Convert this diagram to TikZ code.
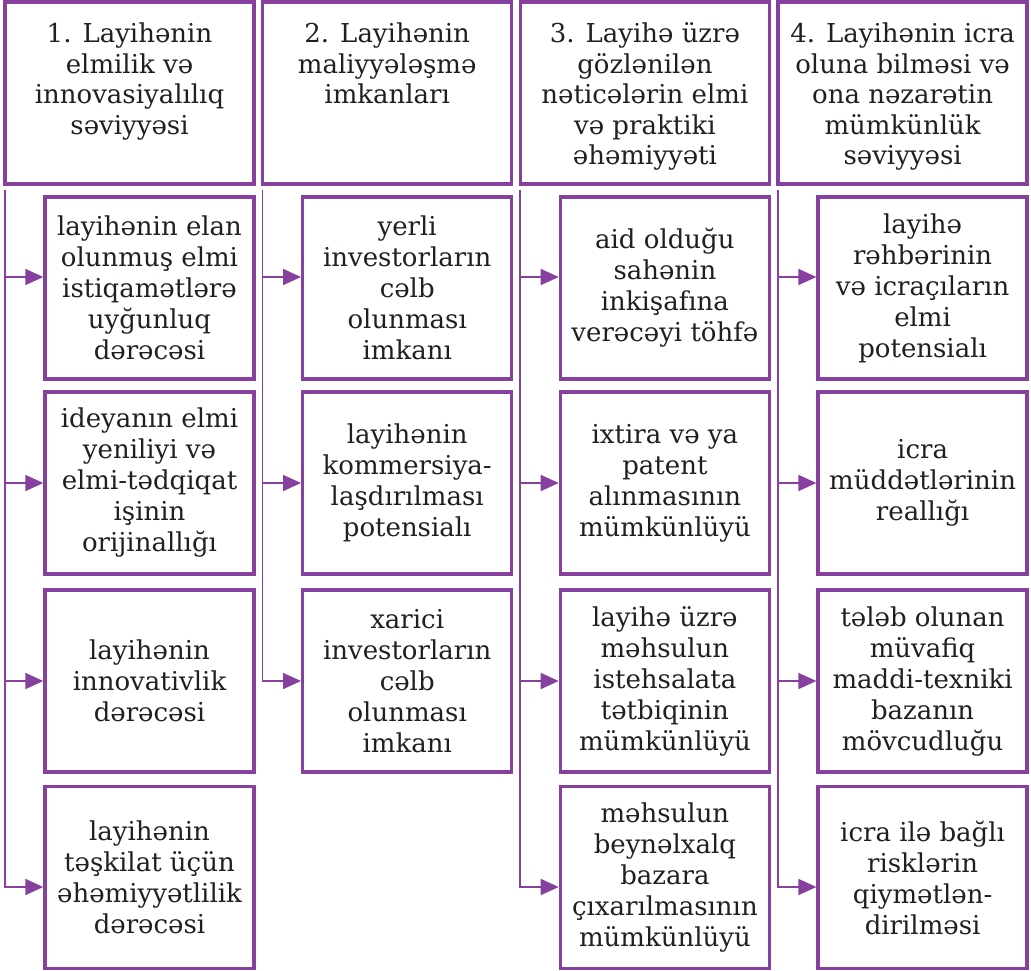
\documentclass[tikz,border=0pt]{standalone}
\usepackage{fontspec}
\setmainfont{DejaVu Serif}
\usetikzlibrary{arrows.meta}
\definecolor{violet}{RGB}{136,64,158}
\definecolor{ink}{RGB}{35,31,32}
% header text: top-aligned block of fixed height
\newcommand\headtext[1]{\begin{minipage}[c][143pt][t]{246pt}\centering\fontsize{26}{30.5}\selectfont\strut#1\end{minipage}}
\tikzset{
  frame/.style={draw=violet, line width=3.4pt, rectangle, inner sep=0pt, text=ink,
    font=\fontsize{26}{31}\selectfont},
  headbox/.style={frame, minimum width=249pt, minimum height=182pt},
  itembox/.style={frame, minimum width=209pt, minimum height=182pt, align=center},
  link/.style={draw=violet, line width=1.6pt, -{Triangle[length=18pt,width=16pt]}},
}
\begin{document}
\begin{tikzpicture}[x=1pt,y=-1pt]
\useasboundingbox (0,0) rectangle (1031,970);

% column headers
\node[headbox] (h1) at (129.5,93) {\headtext{1. Layihənin\\elmilik və\\innovasiyalılıq\\səviyyəsi}};
\node[headbox] (h2) at (387.2,93) {\headtext{2. Layihənin\\maliyyələşmə\\imkanları}};
\node[headbox] (h3) at (644.9,93) {\headtext{3. Layihə üzrə\\gözlənilən\\nəticələrin elmi\\və praktiki\\əhəmiyyəti}};
\node[headbox] (h4) at (902.6,93) {\headtext{4. Layihənin icra\\oluna bilməsi və\\ona nəzarətin\\mümkünlük\\səviyyəsi}};

% column 1
\node[itembox] (c11) at (149.5,288) {layihənin elan\\olunmuş elmi\\istiqamətlərə\\uyğunluq\\dərəcəsi};
\node[itembox] (c12) at (149.5,483) {ideyanın elmi\\yeniliyi və\\elmi-tədqiqat\\işinin\\orijinallığı};
\node[itembox] (c13) at (149.5,681) {layihənin\\innovativlik\\dərəcəsi};
\node[itembox] (c14) at (149.5,877.5) {layihənin\\təşkilat üçün\\əhəmiyyətlilik\\dərəcəsi};

% column 2
\node[itembox] (c21) at (407.2,288) {yerli\\investorların\\cəlb\\olunması\\imkanı};
\node[itembox] (c22) at (407.2,483) {layihənin\\kommersiya-\\laşdırılması\\potensialı};
\node[itembox] (c23) at (407.2,681) {xarici\\investorların\\cəlb\\olunması\\imkanı};

% column 3
\node[itembox] (c31) at (664.9,288) {aid olduğu\\sahənin\\inkişafına\\verəcəyi töhfə};
\node[itembox] (c32) at (664.9,483) {ixtira və ya\\patent\\alınmasının\\mümkünlüyü};
\node[itembox] (c33) at (664.9,681) {layihə üzrə\\məhsulun\\istehsalata\\tətbiqinin\\mümkünlüyü};
\node[itembox] (c34) at (664.9,877.5) {məhsulun\\beynəlxalq\\bazara\\çıxarılmasının\\mümkünlüyü};

% column 4
\node[itembox] (c41) at (922.6,288) {layihə\\rəhbərinin\\və icraçıların\\elmi\\potensialı};
\node[itembox] (c42) at (922.6,483) {icra\\müddətlərinin\\reallığı};
\node[itembox] (c43) at (922.6,681) {tələb olunan\\müvafiq\\maddi-texniki\\bazanın\\mövcudluğu};
\node[itembox] (c44) at (922.6,877.5) {icra ilə bağlı\\risklərin\\qiymətlən-\\dirilməsi};

% trunk starts just below each header
\coordinate (t1) at ([xshift=1.5pt,yshift=-4pt]h1.south west);
\coordinate (t2) at ([xshift=1.5pt,yshift=-4pt]h2.south west);
\coordinate (t3) at ([xshift=1.5pt,yshift=-4pt]h3.south west);
\coordinate (t4) at ([xshift=1.5pt,yshift=-4pt]h4.south west);

% arrow targets on the left side of the items
\foreach \c in {1,2,3,4}{
  \coordinate (a\c1) at ([yshift=11pt]c\c1.west);
  \coordinate (a\c2) at (c\c2.west);
  \coordinate (a\c3) at (c\c3.west);
}
\coordinate (a14) at ([yshift=-9.5pt]c14.west);
\coordinate (a34) at ([yshift=-9.5pt]c34.west);
\coordinate (a44) at ([yshift=-9.5pt]c44.west);

% connectors
\draw[link] (t1) |- (a14);
\draw[link] (t2) |- (a23);
\draw[link] (t3) |- (a34);
\draw[link] (t4) |- (a44);
\foreach \c/\r in {1/1,1/2,1/3,2/1,2/2,3/1,3/2,3/3,4/1,4/2,4/3}{
  \draw[link] (t\c |- a\c\r) -- (a\c\r);
}
\end{tikzpicture}
\end{document}
